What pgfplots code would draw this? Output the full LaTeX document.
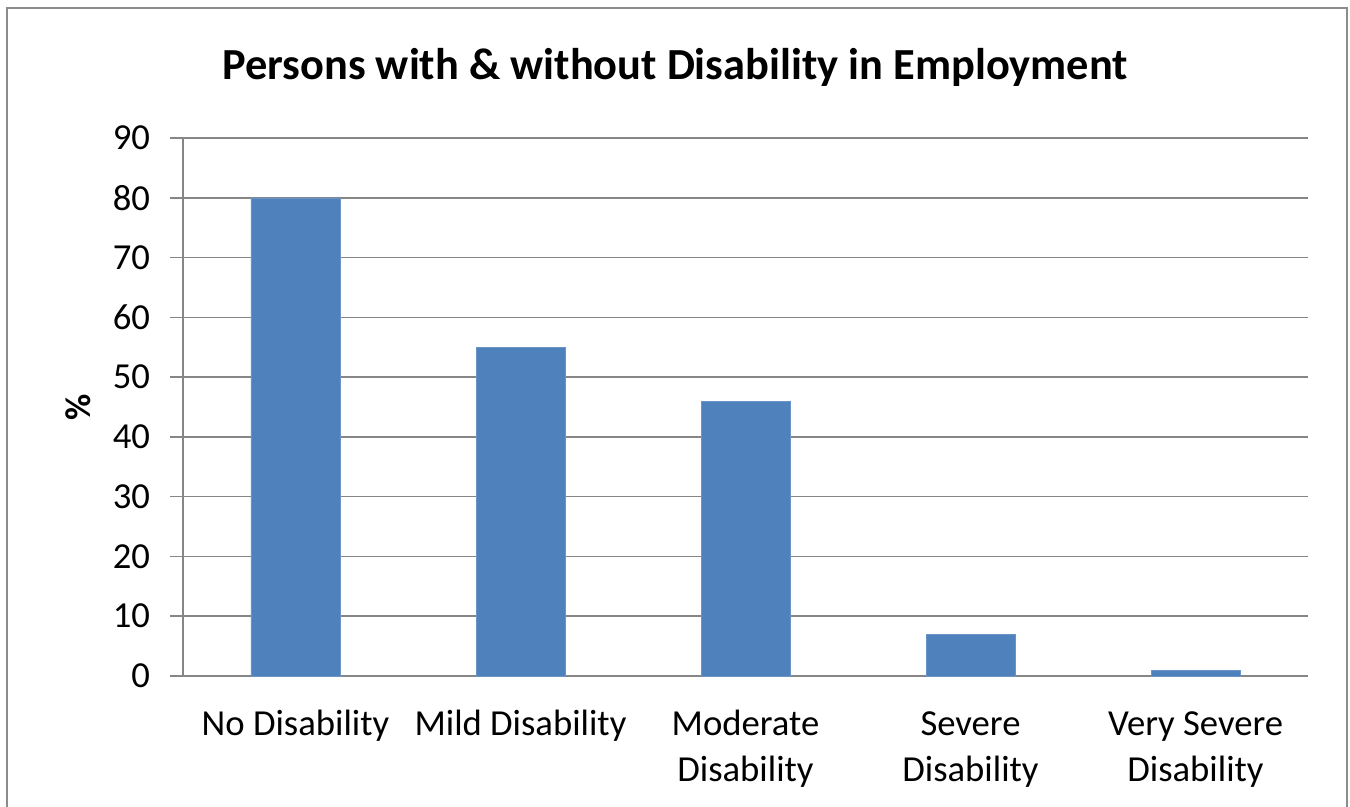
\documentclass[border=0pt]{standalone}
\usepackage{pgfplots}
\pgfplotsset{compat=1.18}
\usepackage{fontspec}
\setmainfont{Carlito}
\definecolor{barblue}{HTML}{4F81BD}
\definecolor{gridgray}{HTML}{868686}
\definecolor{framegray}{HTML}{8C8C8C}
\begin{document}
\begin{tikzpicture}
\path[use as bounding box] (-137.25pt,507pt) rectangle (875.25pt,-98.25pt);
\clip (-137.25pt,507pt) rectangle (875.25pt,-98.25pt);
\draw[framegray, line width=2.2pt] (-132pt,501pt) rectangle (873pt,-115.5pt);
\begin{axis}[
  at={(0pt,0pt)}, anchor=south west,
  scale only axis,
  width=843.75pt, height=403.5pt,
  xmin=-0.5, xmax=4.5, ymin=0, ymax=90,
  ytick={0,10,...,90},
  xtick={0,1,2,3,4},
  xticklabels={{\strut No Disability},{\strut Mild Disability},{\strut Moderate\\Disability},{\strut Severe\\Disability},{\strut Very Severe\\Disability}},
  axis x line*=bottom, axis y line*=left,
  axis line style={gridgray, line width=1.1pt, -},
  ymajorgrids, grid style={gridgray, line width=1.1pt},
  xtick style={draw=none},
  ytick style={gridgray, line width=1.1pt},
  tick align=outside, major tick length=9.75pt,
  yticklabel style={font=\fontsize{27.5}{30}\selectfont, anchor=east, xshift=-11.5pt},
  xticklabel style={font=\fontsize{27.5}{35}\selectfont, align=center, anchor=north, inner sep=0pt, yshift=-10pt},
  /pgf/number format/assume math mode=true,
  ybar, bar width=66.75pt,
]
\addplot[fill=barblue, draw=barblue!85!white] coordinates {(0,80) (1,55) (2,46) (3,7) (4,1)};
\end{axis}
\node[anchor=base, font=\bfseries\fontsize{33.3}{36}\selectfont] at (369pt,447pt) {Persons with \& without Disability in Employment};
\node[rotate=90, font=\bfseries\fontsize{27}{30}\selectfont] at (-78.75pt,201.75pt) {\%};
\end{tikzpicture}
\end{document}
